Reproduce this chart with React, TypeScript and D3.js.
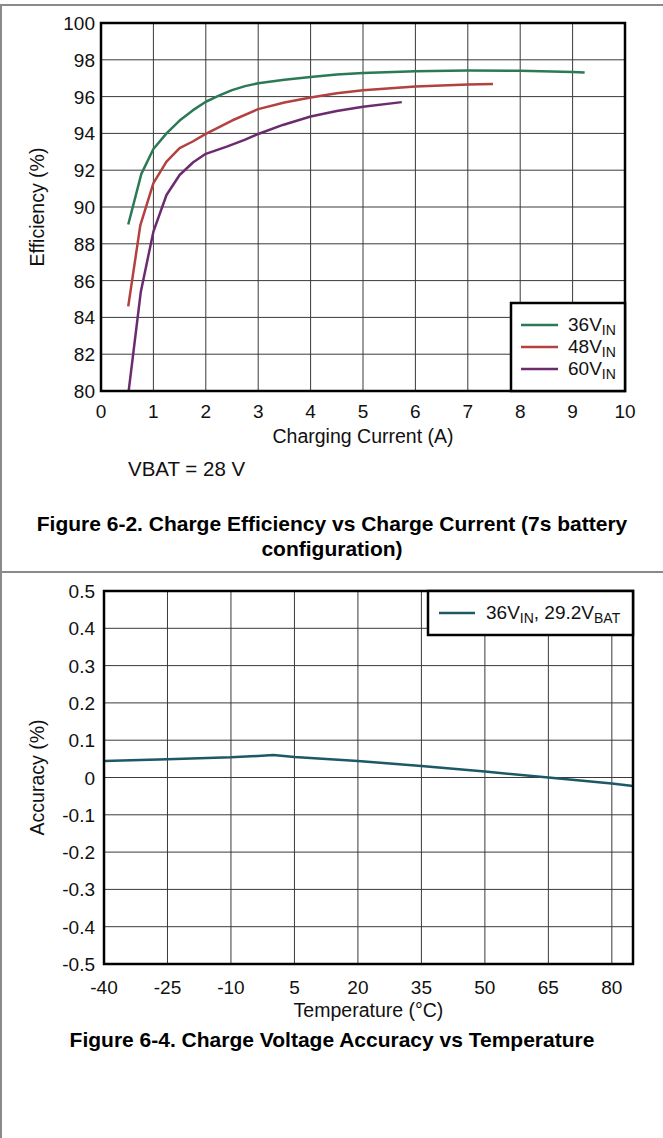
import React from 'react';
import * as d3 from 'd3';

// ---------- Data: Figure 6-2 ----------
const current36 = [0.52, 0.77, 1.0, 1.25, 1.5, 1.75, 2.0, 2.25, 2.5, 2.75, 3.0, 3.5, 4.0, 4.5, 5.0, 6.0, 7.0, 8.0, 9.0, 9.23];
const eff36 = [89.05, 91.8, 93.15, 94.0, 94.7, 95.25, 95.72, 96.05, 96.35, 96.57, 96.73, 96.92, 97.06, 97.2, 97.28, 97.38, 97.42, 97.4, 97.34, 97.31];
const current48 = [0.52, 0.75, 1.0, 1.25, 1.5, 1.75, 2.0, 2.5, 3.0, 3.5, 4.0, 4.5, 5.0, 6.0, 7.0, 7.48];
const eff48 = [84.6, 89.0, 91.3, 92.47, 93.2, 93.56, 93.97, 94.7, 95.32, 95.68, 95.95, 96.18, 96.35, 96.55, 96.66, 96.68];
const current60 = [0.53, 0.76, 1.0, 1.25, 1.5, 1.76, 2.0, 2.4, 2.74, 3.0, 3.47, 4.0, 4.5, 5.0, 5.74];
const eff60 = [80.05, 85.4, 88.66, 90.65, 91.74, 92.43, 92.89, 93.28, 93.65, 93.97, 94.46, 94.92, 95.22, 95.45, 95.7];
const seriesNames1 = ['36', '48', '60'];
const seriesColors1 = ['#2b7a55', '#b2413f', '#6b2c6f'];
const xTicks1 = [0, 1, 2, 3, 4, 5, 6, 7, 8, 9, 10];
const yTicks1 = [80, 82, 84, 86, 88, 90, 92, 94, 96, 98, 100];

// ---------- Data: Figure 6-4 ----------
const temperature = [-40, -25, -10, 0, 5, 20, 35, 50, 65, 80, 85];
const accuracy = [0.044, 0.049, 0.054, 0.06, 0.055, 0.044, 0.031, 0.016, 0.0, -0.016, -0.023];
const xTicks2 = [-40, -25, -10, 5, 20, 35, 50, 65, 80];
const yTicks2 = [0.5, 0.4, 0.3, 0.2, 0.1, 0, -0.1, -0.2, -0.3, -0.4, -0.5];
const lineColor2 = '#1d5866';

const FONT = "'Liberation Sans', Arial, Helvetica, sans-serif";
const TICK = 19;
const TITLE = 19.5;
const SUB = 14;

export default function App() {
  // Chart 1 layout
  const p1 = { l: 101, r: 625, t: 23, b: 391 };
  const x1 = d3.scaleLinear().domain([0, 10]).range([p1.l, p1.r]);
  const y1 = d3.scaleLinear().domain([80, 100]).range([p1.b, p1.t]);
  const line1 = d3.line<[number, number]>().x((d) => x1(d[0])).y((d) => y1(d[1]));
  const series1 = [
    d3.zip(current36, eff36) as [number, number][],
    d3.zip(current48, eff48) as [number, number][],
    d3.zip(current60, eff60) as [number, number][],
  ];

  // Chart 2 layout
  const p2 = { l: 104, r: 633, t: 591, b: 964 };
  const x2 = d3.scaleLinear().domain([-40, 85]).range([p2.l, p2.r]);
  const y2 = d3.scaleLinear().domain([-0.5, 0.5]).range([p2.b, p2.t]);
  const line2 = d3.line<[number, number]>().x((d) => x2(d[0])).y((d) => y2(d[1]));
  const series2 = d3.zip(temperature, accuracy) as [number, number][];

  const gridColor = '#3a3a3a';
  const fmt2 = (v: number) => (v === 0 ? '0' : d3.format('.1f')(v).replace('−', '-'));

  return (
    <svg width={663} height={1138} style={{ position: 'absolute', left: 0, top: 0, background: '#fff' }} fontFamily={FONT}>
      <rect x={0} y={0} width={663} height={1138} fill="#fff" />
      {/* page borders */}
      <line x1={0} x2={663} y1={5} y2={5} stroke="#8a8a8a" strokeWidth={2} />
      <line x1={1} x2={1} y1={5} y2={1138} stroke="#8a8a8a" strokeWidth={2} />
      <line x1={0} x2={663} y1={572} y2={572} stroke="#8a8a8a" strokeWidth={2} />

      {/* ===== Chart 1 ===== */}
      <g>
        {xTicks1.slice(1, -1).map((t) => (
          <line key={'gx' + t} x1={x1(t)} x2={x1(t)} y1={p1.t} y2={p1.b} stroke={gridColor} strokeWidth={1} />
        ))}
        {yTicks1.slice(1, -1).map((t) => (
          <line key={'gy' + t} x1={p1.l} x2={p1.r} y1={y1(t)} y2={y1(t)} stroke={gridColor} strokeWidth={1} />
        ))}
        {series1.map((s, i) => (
          <path key={'s' + i} d={line1(s) || ''} fill="none" stroke={seriesColors1[i]} strokeWidth={2.5} strokeLinejoin="round" />
        ))}
        <rect x={p1.l} y={p1.t} width={p1.r - p1.l} height={p1.b - p1.t} fill="none" stroke="#000" strokeWidth={2.5} />
        {yTicks1.map((t) => (
          <text key={'ty' + t} x={95} y={y1(t) + 7} textAnchor="end" fontSize={TICK} fill="#111">{t}</text>
        ))}
        {xTicks1.map((t) => (
          <text key={'tx' + t} x={x1(t)} y={418} textAnchor="middle" fontSize={TICK} fill="#111">{t}</text>
        ))}
        <text x={(p1.l + p1.r) / 2} y={443} textAnchor="middle" fontSize={TITLE} fill="#111">Charging Current (A)</text>
        <text transform={`translate(44, ${(p1.t + p1.b) / 2}) rotate(-90)`} textAnchor="middle" fontSize={TITLE} fill="#111">Efficiency (%)</text>

        {/* legend */}
        <rect x={511} y={303} width={p1.r - 511} height={p1.b - 303} fill="#fff" stroke="#000" strokeWidth={2.5} />
        {seriesNames1.map((n, i) => {
          const yy = 325 + i * 22;
          return (
            <g key={'lg' + n}>
              <line x1={521} x2={558} y1={yy} y2={yy} stroke={seriesColors1[i]} strokeWidth={2.5} />
              <text x={568} y={yy + 6} fontSize={TICK} fill="#111">
                {n}V<tspan fontSize={SUB} dy={4}>IN</tspan>
              </text>
            </g>
          );
        })}

        <text x={128} y={476} fontSize={20.5} fill="#111">VBAT = 28 V</text>
        <text x={332} y={531} textAnchor="middle" fontSize={21} fontWeight="bold" fill="#000">Figure 6-2. Charge Efficiency vs Charge Current (7s battery</text>
        <text x={332} y={556} textAnchor="middle" fontSize={21} fontWeight="bold" fill="#000">configuration)</text>
      </g>

      {/* ===== Chart 2 ===== */}
      <g>
        {xTicks2.slice(1).map((t) => (
          <line key={'gx2' + t} x1={x2(t)} x2={x2(t)} y1={p2.t} y2={p2.b} stroke={gridColor} strokeWidth={1} />
        ))}
        {yTicks2.slice(1, -1).map((t) => (
          <line key={'gy2' + t} x1={p2.l} x2={p2.r} y1={y2(t)} y2={y2(t)} stroke={gridColor} strokeWidth={1} />
        ))}
        <path d={line2(series2) || ''} fill="none" stroke={lineColor2} strokeWidth={2.5} strokeLinejoin="round" />
        <rect x={p2.l} y={p2.t} width={p2.r - p2.l} height={p2.b - p2.t} fill="none" stroke="#000" strokeWidth={2.5} />
        {yTicks2.map((t) => (
          <text key={'ty2' + t} x={95} y={y2(t) + 7} textAnchor="end" fontSize={TICK} fill="#111">{fmt2(t)}</text>
        ))}
        {xTicks2.map((t) => (
          <text key={'tx2' + t} x={x2(t)} y={994} textAnchor="middle" fontSize={TICK} fill="#111">{t}</text>
        ))}
        <text x={(p2.l + p2.r) / 2} y={1017} textAnchor="middle" fontSize={TITLE} fill="#111">Temperature (°C)</text>
        <text transform={`translate(44, ${(p2.t + p2.b) / 2}) rotate(-90)`} textAnchor="middle" fontSize={TITLE} fill="#111">Accuracy (%)</text>

        {/* legend */}
        <rect x={428} y={p2.t} width={p2.r - 428} height={635 - p2.t} fill="#fff" stroke="#000" strokeWidth={2.5} />
        <line x1={439} x2={475} y1={613} y2={613} stroke={lineColor2} strokeWidth={2.5} />
        <text x={486} y={619} fontSize={TICK} fill="#111">
          36V<tspan fontSize={SUB} dy={4}>IN</tspan><tspan dy={-4}>, 29.2V</tspan><tspan fontSize={SUB} dy={4}>BAT</tspan>
        </text>

        <text x={332} y={1047} textAnchor="middle" fontSize={21} fontWeight="bold" fill="#000">Figure 6-4. Charge Voltage Accuracy vs Temperature</text>
      </g>
    </svg>
  );
}
